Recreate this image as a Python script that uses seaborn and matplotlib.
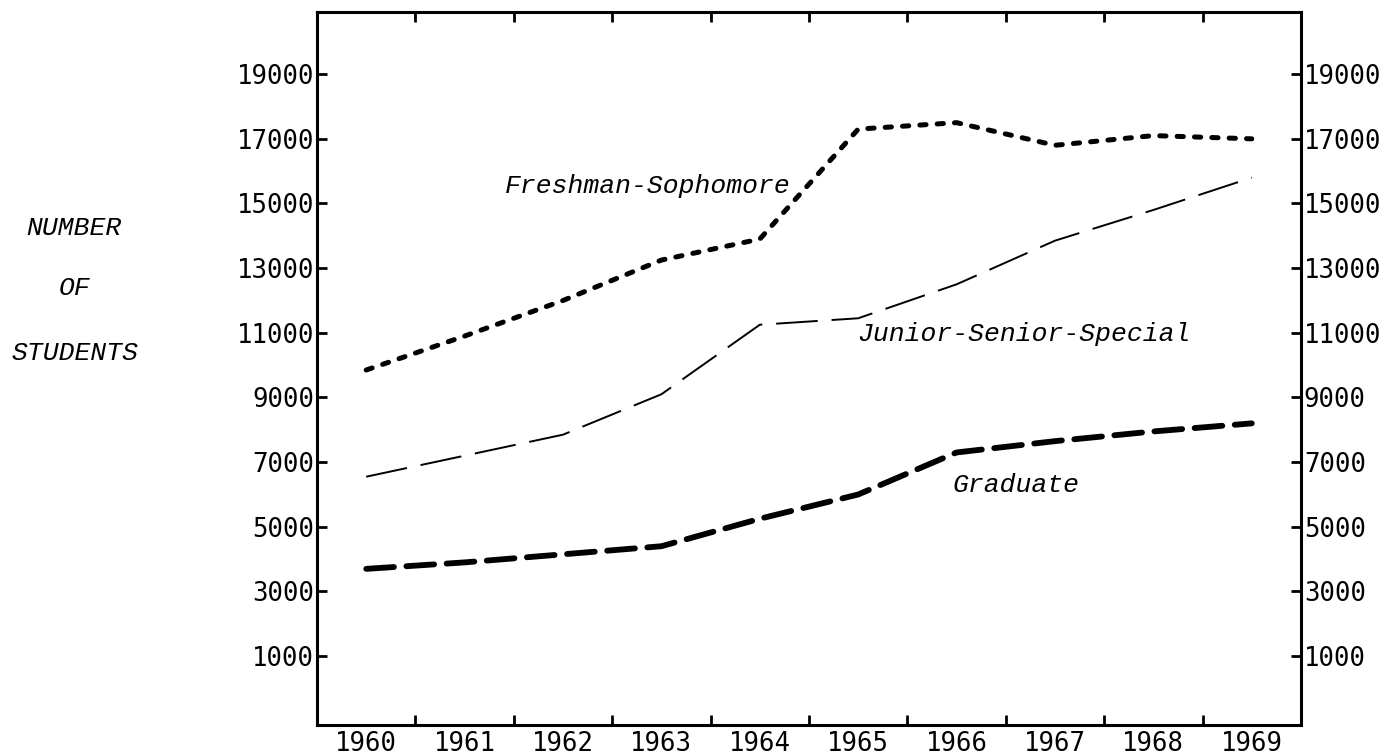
import matplotlib
matplotlib.use("Agg")
import matplotlib.pyplot as plt
import seaborn as sns
import pandas as pd
from matplotlib.ticker import FixedLocator

years = [1960, 1961, 1962, 1963, 1964, 1965, 1966, 1967, 1968, 1969]
fresh_soph = [9850, 10900, 12000, 13250, 13900, 17300, 17500, 16800, 17100, 17000]
junior_senior = [6550, 7200, 7850, 9100, 11250, 11450, 12500, 13850, 14800, 15800]
graduate = [3700, 3900, 4150, 4400, 5250, 6000, 7300, 7650, 7950, 8200]
ytick_values = [1000, 3000, 5000, 7000, 9000, 11000, 13000, 15000, 17000, 19000]

sns.set_theme(style="white")
plt.rcParams["lines.scale_dashes"] = False

fig = plt.figure(figsize=(13.88, 7.55), dpi=100)
ax = fig.add_axes([0.2284, 0.0397, 0.9373 - 0.2284, 0.984 - 0.0397])

df = pd.DataFrame({"year": years, "fs": fresh_soph, "js": junior_senior, "gr": graduate})

sns.lineplot(data=df, x="year", y="fs", ax=ax, color="black", linewidth=3.6)
sns.lineplot(data=df, x="year", y="js", ax=ax, color="black", linewidth=1.4)
sns.lineplot(data=df, x="year", y="gr", ax=ax, color="black", linewidth=4.2)

lines = ax.get_lines()
lines[0].set_dashes((4.5, 8))
lines[0].set_dash_capstyle("round")
lines[1].set_dashes((30, 10))
lines[2].set_dashes((20, 9))
lines[2].set_dash_capstyle("round")

ax.set_xlim(1959.5, 1969.5)
ax.set_ylim(-1130, 20920)
ax.set_xlabel("")
ax.set_ylabel("")

for s in ax.spines.values():
    s.set_visible(True)
    s.set_color("black")
    s.set_linewidth(2.2)

ax.xaxis.set_major_locator(FixedLocator(years))
ax.set_xticklabels([str(y) for y in years])
ax.xaxis.set_minor_locator(FixedLocator([y + 0.5 for y in years[:-1]]))
ax.tick_params(axis="x", which="major", length=0, pad=4, labelsize=18.5, labelcolor="black")
ax.tick_params(axis="x", which="minor", direction="in", length=7, width=2, color="black",
               bottom=True, top=True)
ax.set_yticks(ytick_values)
ax.set_yticklabels([str(v) for v in ytick_values])
ax.tick_params(axis="y", which="major", direction="in", length=7, width=2, color="black",
               left=True, right=True, labelleft=True, labelright=True, pad=2,
               labelsize=18.5, labelcolor="black")

for lab in ax.get_xticklabels() + ax.get_yticklabels():
    lab.set_family("DejaVu Sans Mono")
for t in ax.yaxis.get_major_ticks():
    t.label2.set_family("DejaVu Sans Mono")
    t.label2.set_fontsize(18.5)

mono = dict(family="Liberation Mono", style="italic", fontsize=19, color="black")
ax.text(1962.86, 15550, "Freshman-Sophomore", ha="center", va="center", **mono)
ax.text(1966.68, 10950, "Junior-Senior-Special", ha="center", va="center", **mono)
ax.text(1966.6, 6300, "Graduate", ha="center", va="center", **mono)

fig.text(73.5 / 1388, 1 - 228 / 755, "NUMBER", ha="center", va="center", **mono)
fig.text(75 / 1388, 1 - 288 / 755, "OF", ha="center", va="center", **mono)
fig.text(74.5 / 1388, 1 - 353 / 755, "STUDENTS", ha="center", va="center", **mono)

fig.savefig("out.png", dpi=100, facecolor="white")
